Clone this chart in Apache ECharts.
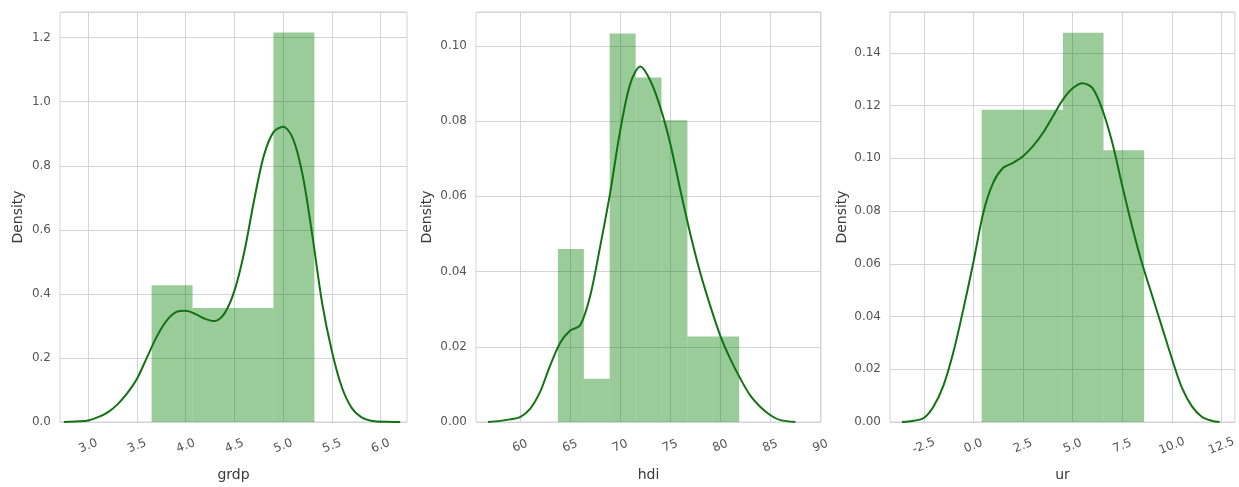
<!DOCTYPE html>
<html>
<head>
<meta charset="utf-8">
<script src="https://cdn.jsdelivr.net/npm/echarts@6/dist/echarts.min.js"></script>
<style>
  html, body { margin: 0; padding: 0; background: #fff; }
  #chart { width: 1239px; height: 487px; }
</style>
</head>
<body>
<div id="chart"></div>
<script>
// histogram bins: [left, right, density]
var grdpBins = [[3.65, 4.07, 0.427], [4.07, 4.49, 0.356], [4.49, 4.90, 0.356], [4.90, 5.32, 1.216]];
var grdpKde = [[2.75, 0], [2.9, 0.002], [3.0, 0.005], [3.1, 0.015], [3.2, 0.03], [3.3, 0.055], [3.4, 0.09],
  [3.5, 0.135], [3.6, 0.2], [3.7, 0.265], [3.8, 0.315], [3.9, 0.343], [4.0, 0.347], [4.1, 0.337],
  [4.2, 0.322], [4.3, 0.315], [4.4, 0.34], [4.5, 0.41], [4.6, 0.53], [4.7, 0.69], [4.8, 0.83],
  [4.9, 0.905], [5.0, 0.922], [5.1, 0.885], [5.2, 0.77], [5.3, 0.58], [5.4, 0.37], [5.5, 0.22],
  [5.6, 0.11], [5.7, 0.045], [5.8, 0.015], [5.9, 0.004], [6.05, 0.0005], [6.2, 0]];
var grdpXTicks = [3.0, 3.5, 4.0, 4.5, 5.0, 5.5, 6.0];

var hdiBins = [[63.78, 66.37, 0.046], [66.37, 68.95, 0.0115], [68.95, 71.54, 0.1033], [71.54, 74.12, 0.0916],
  [74.12, 76.71, 0.0802], [76.71, 79.29, 0.0227], [79.29, 81.88, 0.0227]];
var hdiKde = [[56.8, 0], [58, 0.0003], [59, 0.0007], [60, 0.0013], [61, 0.0035], [62, 0.008], [63, 0.015],
  [64, 0.021], [65, 0.0243], [66, 0.0257], [67, 0.0335], [68, 0.0467],
  [69, 0.061], [70, 0.0775], [71, 0.0899], [72, 0.0945], [73, 0.0908], [74, 0.0837],
  [75, 0.074], [76, 0.0617], [77, 0.05], [78, 0.0396], [79, 0.0308], [80, 0.0229], [81, 0.0167],
  [82, 0.0115], [83, 0.007], [84, 0.004], [85, 0.0018], [86, 0.0005], [87.5, 0]];
var hdiXTicks = [60, 65, 70, 75, 80, 85, 90];

var urBins = [[0.417, 2.463, 0.1184], [2.463, 4.508, 0.1184], [4.508, 6.554, 0.1476], [6.554, 8.6, 0.1031]];
var urKde = [[-3.6, 0], [-3, 0.0005], [-2.5, 0.0015], [-2, 0.006], [-1.5, 0.014], [-1, 0.0267], [-0.5, 0.043],
  [0, 0.0606], [0.5, 0.0794], [1, 0.0908], [1.5, 0.0964], [2, 0.0983], [2.5, 0.1008], [3, 0.1046],
  [3.5, 0.1096], [4, 0.1159], [4.5, 0.1222], [5, 0.1266], [5.5, 0.1285], [6, 0.1266], [6.5, 0.1184],
  [7, 0.1058], [7.5, 0.0895], [8, 0.074], [8.5, 0.06], [9, 0.048], [9.5, 0.036], [10, 0.024],
  [10.5, 0.013], [11, 0.006], [11.5, 0.002], [12, 0.0005], [12.4, 0]];
var urXTicks = [-2.5, 0.0, 2.5, 5.0, 7.5, 10.0, 12.5];

var panels = [
  { name: 'grdp', bins: grdpBins, kde: grdpKde, ticks: grdpXTicks, xmin: 2.71, xmax: 6.27, ymax: 1.28, yint: 0.2, ydec: 1, xdec: 1,
    yGap: 35, grid: { left: 60, top: 12, width: 347, height: 411 } },
  { name: 'hdi', bins: hdiBins, kde: hdiKde, ticks: hdiXTicks, xmin: 55.6, xmax: 90.05, ymax: 0.109, yint: 0.02, ydec: 2, xdec: 0,
    yGap: 42, grid: { left: 476, top: 12, width: 345, height: 410 } },
  { name: 'ur', bins: urBins, kde: urKde, ticks: urXTicks, xmin: -4.2, xmax: 13.17, ymax: 0.1555, yint: 0.02, ydec: 2, xdec: 1,
    yGap: 41, grid: { left: 890, top: 12, width: 347, height: 412 } }
];

var gridColor = '#d3d3d9';
var labelColor = '#555';

var chart = echarts.init(document.getElementById('chart'));
var grids = [], xAxes = [], yAxes = [], series = [];

panels.forEach(function (p, i) {
  grids.push(Object.assign({ show: true, borderColor: gridColor, borderWidth: 1, containLabel: false }, p.grid));
  xAxes.push({
    type: 'value', gridIndex: i, min: p.xmin, max: p.xmax,
    name: p.name, nameLocation: 'middle', nameGap: 46,
    nameTextStyle: { color: '#3a3a3a', fontSize: 14, fontFamily: 'DejaVu Sans' },
    axisLine: { show: false },
    axisTick: { show: false, customValues: p.ticks },
    axisLabel: {
      customValues: p.ticks, rotate: 22, margin: 24, align: 'center', verticalAlign: 'middle',
      color: labelColor, fontSize: 12, fontFamily: 'DejaVu Sans',
      formatter: function (v) { return v.toFixed(p.xdec); }
    },
    splitLine: { show: true, lineStyle: { color: gridColor, width: 1 } }
  });
  yAxes.push({
    type: 'value', gridIndex: i, min: 0, max: p.ymax, interval: p.yint,
    name: 'Density', nameLocation: 'middle', nameGap: p.yGap, nameRotate: 90,
    nameTextStyle: { color: '#3a3a3a', fontSize: 14, fontFamily: 'DejaVu Sans' },
    axisLine: { show: false },
    axisTick: { show: false },
    axisLabel: {
      margin: 9, color: labelColor, fontSize: 12, fontFamily: 'DejaVu Sans', showMaxLabel: false,
      formatter: function (v) { return v.toFixed(p.ydec); }
    },
    splitLine: { show: true, lineStyle: { color: gridColor, width: 1 } }
  });
  series.push({
    type: 'custom', xAxisIndex: i, yAxisIndex: i, data: p.bins,
    renderItem: function (params, api) {
      var a = api.coord([api.value(0), api.value(2)]);
      var b = api.coord([api.value(1), 0]);
      return {
        type: 'rect',
        shape: { x: a[0], y: a[1], width: b[0] - a[0], height: b[1] - a[1] },
        style: { fill: 'rgba(0,128,0,0.4)' }
      };
    },
    z: 2
  });
  series.push({
    type: 'line', xAxisIndex: i, yAxisIndex: i, data: p.kde, smooth: 0.3,
    showSymbol: false, lineStyle: { color: '#137213', width: 2 }, z: 3
  });
});

chart.setOption({
  animation: false,
  backgroundColor: '#fff',
  grid: grids,
  xAxis: xAxes,
  yAxis: yAxes,
  series: series
});
</script>
</body>
</html>
